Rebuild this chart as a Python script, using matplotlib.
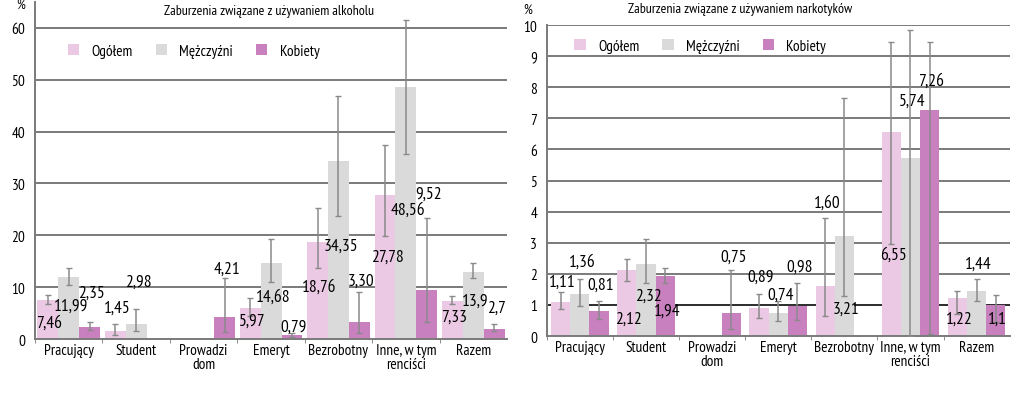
import numpy as np
import matplotlib
matplotlib.use('Agg')
import matplotlib.pyplot as plt
from matplotlib.patches import Patch

nan = np.nan

categories = ['Pracujący', 'Student', 'Prowadzi\ndom', 'Emeryt', 'Bezrobotny',
              'Inne, w tym\nrenciści', 'Razem']
series = ['Ogółem', 'Mężczyźni', 'Kobiety']

# alkohol
alk_ogolem = [7.46, 1.45, nan, 5.97, 18.76, 27.78, 7.33]
alk_mezczyzni = [11.99, 2.98, nan, 14.68, 34.35, 48.56, 13.0]
alk_kobiety = [2.35, nan, 4.21, 0.79, 3.30, 9.52, 1.9]
alk_ogolem_lo = [6.7, 0.8, nan, 4.5, 13.6, 19.9, 6.7]
alk_ogolem_hi = [8.5, 2.9, nan, 7.9, 25.3, 37.4, 8.2]
alk_mezczyzni_lo = [10.4, 1.5, nan, 11.0, 23.8, 35.6, 11.7]
alk_mezczyzni_hi = [13.7, 5.8, nan, 19.3, 46.9, 61.5, 14.6]
alk_kobiety_lo = [1.8, nan, 1.4, 0.4, 1.2, 3.3, 1.6]
alk_kobiety_hi = [3.2, nan, 11.7, 1.2, 9.1, 23.4, 2.8]
alk_ogolem_txt = ['7,46', '1,45', '', '5,97', '18,76', '27,78', '7,33']
alk_mezczyzni_txt = ['11,99', '2,98', '', '14,68', '34,35', '48,56', '13,9']
alk_kobiety_txt = ['2,35', '', '4,21', '0,79', '3,30', '9,52', '2,7']

# narkotyki
nar_ogolem = [1.11, 2.12, nan, 0.89, 1.60, 6.55, 1.22]
nar_mezczyzni = [1.36, 2.32, nan, 0.74, 3.21, 5.74, 1.44]
nar_kobiety = [0.81, 1.94, 0.75, 0.98, nan, 7.26, 1.0]
nar_ogolem_lo = [0.86, 1.78, nan, 0.57, 0.64, 2.95, 0.71]
nar_ogolem_hi = [1.41, 2.49, nan, 1.34, 3.80, 9.45, 1.46]
nar_mezczyzni_lo = [0.98, 1.70, nan, 0.48, 1.30, 0.0, 1.12]
nar_mezczyzni_hi = [1.83, 3.11, nan, 1.12, 7.64, 9.85, 1.82]
nar_kobiety_lo = [0.55, 1.72, 0.23, 0.52, nan, 0.05, 0.46]
nar_kobiety_hi = [1.14, 2.20, 2.13, 1.72, nan, 9.45, 1.33]
nar_ogolem_txt = ['1,11', '2,12', '', '0,89', '1,60', '6,55', '1,22']
nar_mezczyzni_txt = ['1,36', '2,32', '', '0,74', '3,21', '5,74', '1,44']
nar_kobiety_txt = ['0,81', '1,94', '0,75', '0,98', '', '7,26', '1,1']

# where the value labels sit (the source places them by hand)
alk_lbl_y = [[3.1, 6.1, nan, 3.5, 10.0, 15.9, 4.3],
             [6.5, 11.1, nan, 8.2, 18.0, 25.0, 7.4],
             [9.0, nan, 13.5, 2.4, 11.2, 28.0, 6.1]]
nar_lbl_y = [[1.76, 0.55, nan, 1.9, 4.3, 2.63, 0.55],
             [2.4, 1.3, nan, 1.33, 0.87, 7.58, 2.31],
             [1.64, 0.8, 2.54, 2.24, nan, 8.22, 0.55]]

colors = ['#ebc8e3', '#dadada', '#c880bf']
err_color = '#8a8a8a'
grid_color = '#7a7a7a'

plt.rcParams['font.family'] = ['PT Sans Narrow', 'DejaVu Sans']


def panel(ax, vals, los, his, txts, lbl_y, ymax, yticks, width, leg_xy):
    x = np.arange(len(categories))
    for yt in yticks[1:]:
        ax.axhline(yt, color=grid_color, lw=1.4, zorder=1)
    for i in range(3):
        v = np.array(vals[i], dtype=float)
        lo = np.array(los[i], dtype=float)
        hi = np.array(his[i], dtype=float)
        xs = x + (i - 1) * width
        ax.bar(xs, v, width, color=colors[i], zorder=2)
        ok = ~np.isnan(v)
        ax.errorbar(xs[ok], v[ok], yerr=[v[ok] - lo[ok], hi[ok] - v[ok]],
                    fmt='none', ecolor=err_color, elinewidth=1.1,
                    capsize=2.2, capthick=1.0, zorder=3)
        for j in range(len(categories)):
            if txts[i][j]:
                ax.text(xs[j] + 0.03, lbl_y[i][j], txts[i][j], ha='center',
                        va='center', fontsize=12.5, zorder=4)
    ax.set_xlim(-0.5, len(categories) - 0.5)
    ax.set_ylim(0, ymax)
    ax.set_yticks(yticks)
    ax.set_yticklabels([str(t) for t in yticks], fontsize=11)
    ax.set_xticks(x)
    ax.set_xticklabels(categories, fontsize=11, linespacing=0.95)
    ax.set_xticks(np.arange(len(categories)) - 0.5, minor=True)
    ax.tick_params(axis='x', which='major', length=0, pad=3)
    ax.tick_params(axis='x', which='minor', length=3, color=grid_color)
    ax.tick_params(axis='y', length=0, pad=7)
    for s in ['top', 'right']:
        ax.spines[s].set_visible(False)
    ax.spines['left'].set_color(grid_color)
    ax.spines['bottom'].set_color(grid_color)
    ax.spines['left'].set_linewidth(1.4)
    ax.spines['bottom'].set_linewidth(1.4)
    handles = [Patch(facecolor=c, label=s) for c, s in zip(colors, series)]
    ax.legend(handles=handles, ncol=3, frameon=False, fontsize=11,
              handlelength=0.75, handleheight=0.75, handletextpad=0.8,
              columnspacing=1.5, borderpad=0, loc='center left',
              bbox_to_anchor=leg_xy)


fig = plt.figure(figsize=(10.24, 4.10), dpi=100)
ax1 = fig.add_axes([0.0342, 0.1707, 0.461, 0.822])
ax2 = fig.add_axes([0.534, 0.178, 0.452, 0.7585])

panel(ax1, [alk_ogolem, alk_mezczyzni, alk_kobiety],
      [alk_ogolem_lo, alk_mezczyzni_lo, alk_kobiety_lo],
      [alk_ogolem_hi, alk_mezczyzni_hi, alk_kobiety_hi],
      [alk_ogolem_txt, alk_mezczyzni_txt, alk_kobiety_txt],
      alk_lbl_y, 65, [0, 10, 20, 30, 40, 50, 60], 0.31, (0.053, 0.855))
panel(ax2, [nar_ogolem, nar_mezczyzni, nar_kobiety],
      [nar_ogolem_lo, nar_mezczyzni_lo, nar_kobiety_lo],
      [nar_ogolem_hi, nar_mezczyzni_hi, nar_kobiety_hi],
      [nar_ogolem_txt, nar_mezczyzni_txt, nar_kobiety_txt],
      nar_lbl_y, 10, list(range(11)), 0.29, (0.043, 0.932))
ax2.axhline(1, color='#222222', lw=1.2, zorder=1)

fig.text(0.263, 0.971, 'Zaburzenia związane z używaniem alkoholu',
         ha='center', va='center', fontsize=10)
fig.text(0.7227, 0.976, 'Zaburzenia związane z używaniem narkotyków',
         ha='center', va='center', fontsize=10)
fig.text(0.02, 0.988, '%', ha='center', va='center', fontsize=10)
fig.text(0.515, 0.976, '%', ha='center', va='center', fontsize=10)

fig.savefig('out.png', dpi=100)
